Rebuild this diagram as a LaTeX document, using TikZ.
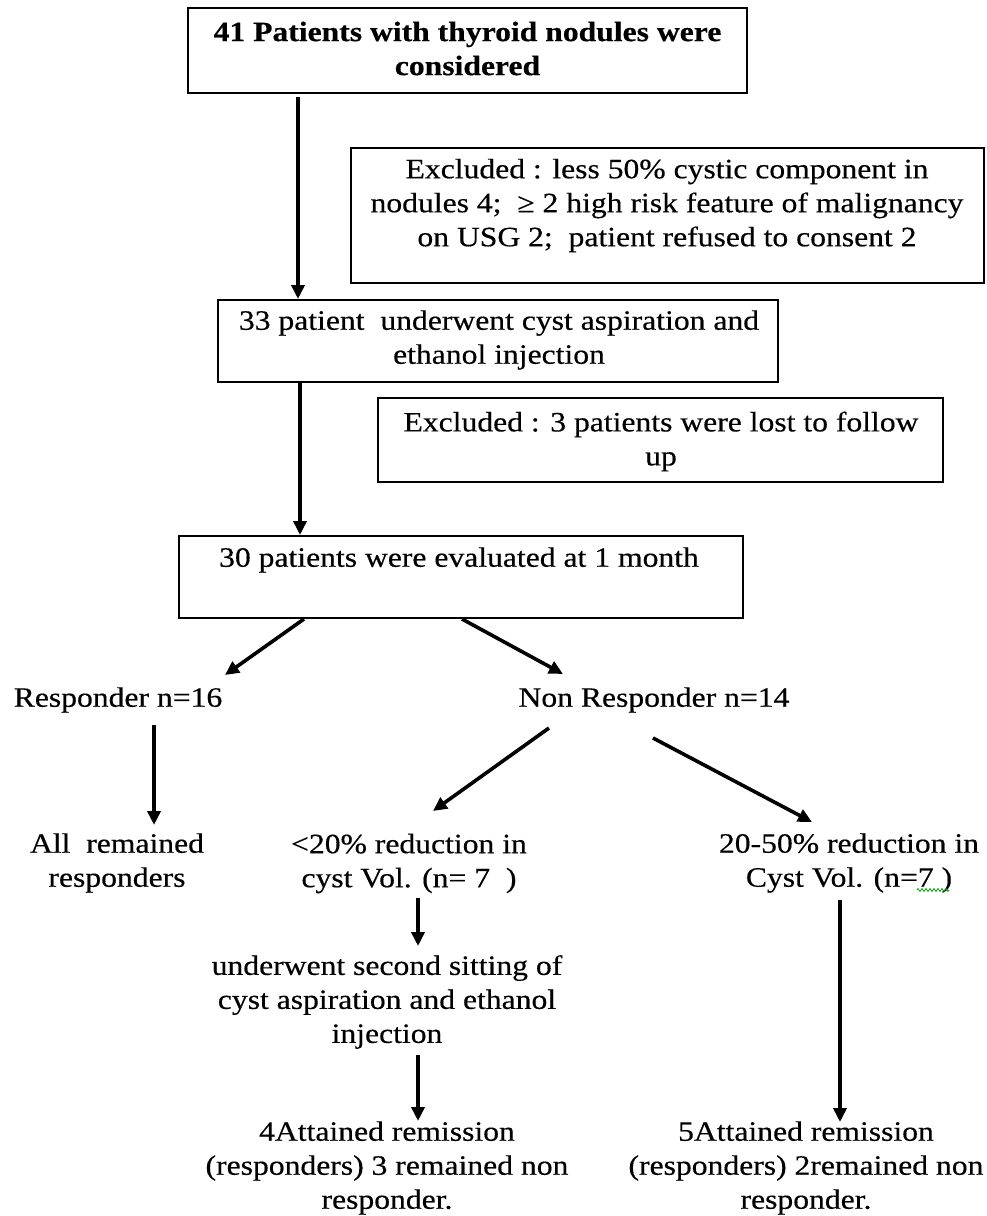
\documentclass[tikz,border=0pt]{standalone}
\usepackage{fontspec}
\setmainfont{Liberation Serif}[FakeStretch=1.13,FakeBold=0.4]
\usetikzlibrary{arrows.meta,decorations.pathmorphing}
\begin{document}
\begin{tikzpicture}[x=1pt,y=-1pt,
  box/.style={draw,line width=2pt,inner sep=0pt},
  txt/.style={align=center,font=\fontsize{28}{34}\selectfont,inner sep=0pt},
  arr/.style={line width=3.6pt,-{Triangle[length=14pt,width=13pt]}}]
\useasboundingbox (0,0) rectangle (986,1216);
\fill[white] (0,0) rectangle (986,1216);
% boxes
\node[box,minimum width=559pt,minimum height=85pt] (b1) at (467.5,50.5) {};
\node[box,minimum width=633pt,minimum height=135pt] (ex1) at (667.5,215.5) {};
\node[box,minimum width=560pt,minimum height=82pt] (b2) at (498,341) {};
\node[box,minimum width=565pt,minimum height=84pt] (ex2) at (660.5,440) {};
\node[box,minimum width=564pt,minimum height=82pt] (b3) at (461,577) {};
% texts
\node[txt,font=\fontsize{28}{34}\selectfont\bfseries] (t1) at (467.5,48.5) {41 Patients with thyroid nodules were\\considered};
\node[txt] (tex1) at (667,205.5) {Excluded : less 50\% cystic component in\\nodules 4;\ \ ≥ 2 high risk feature of malignancy\\on USG 2;\ \ patient refused to consent 2};
\node[txt] (t2) at (499,340) {33 patient\ \ underwent cyst aspiration and\\ethanol injection};
\node[txt] (tex2) at (661,441.5) {Excluded : 3 patients were lost to follow\\up};
\node[txt] (t3) at (459,560) {30 patients were evaluated at 1 month};
\node[txt] (resp) at (118,700) {Responder n=16};
\node[txt] (nresp) at (654,700) {Non Responder n=14};
\node[txt] (allr) at (117,863) {All\ \ remained\\responders};
\node[txt] (lt20) at (409,863.5) {<20\% reduction in\\cyst Vol. (n= 7\ \ )};
\node[txt] (r2050) at (849,863) {20-50\% reduction in\\Cyst Vol. (n=7 )};
\node[txt] (second) at (387,1002) {underwent second sitting of\\cyst aspiration and ethanol\\injection};
\node[txt] (r4) at (387,1168) {4Attained remission\\(responders) 3 remained non\\responder.};
\node[txt] (r5) at (806,1168) {5Attained remission\\(responders) 2remained non\\responder.};
% green spell-check squiggle
\draw[green!60!black,line width=0.8pt,decorate,decoration={zigzag,amplitude=1.4pt,segment length=4pt}] (917,890) -- (949,890);
% coordinates for arrows
\coordinate (xa) at (298,0);
\coordinate (xb) at (300,0);
\coordinate (s3) at (304,0);
\coordinate (e3) at (225,675);
\coordinate (s4) at (462,0);
\coordinate (e4) at (563,674);
\coordinate (e5) at (154,825);
\coordinate (s5) at (154,725);
\coordinate (s6) at (549,728);
\coordinate (e6) at (433,811);
\coordinate (s7) at (653,738);
\coordinate (e7) at (812,822);
\coordinate (s8) at (418,898);
\coordinate (e8) at (418,946);
\coordinate (s9) at (418,1055);
\coordinate (e9) at (418,1121);
\coordinate (s10) at (840,900);
\coordinate (e10) at (840,1122);
% arrows
\draw[arr] ([yshift=-3pt]b1.south -| xa) -- (b2.north -| xa);
\draw[arr] (b2.south -| xb) -- (b3.north -| xb);
\draw[arr] (b3.south -| s3) -- (e3);
\draw[arr] (b3.south -| s4) -- (e4);
\draw[arr] (s5) -- (e5);
\draw[arr] (s6) -- (e6);
\draw[arr] (s7) -- (e7);
\draw[arr] (s8) -- (e8);
\draw[arr] (s9) -- (e9);
\draw[arr] (s10) -- (e10);
\end{tikzpicture}
\end{document}
